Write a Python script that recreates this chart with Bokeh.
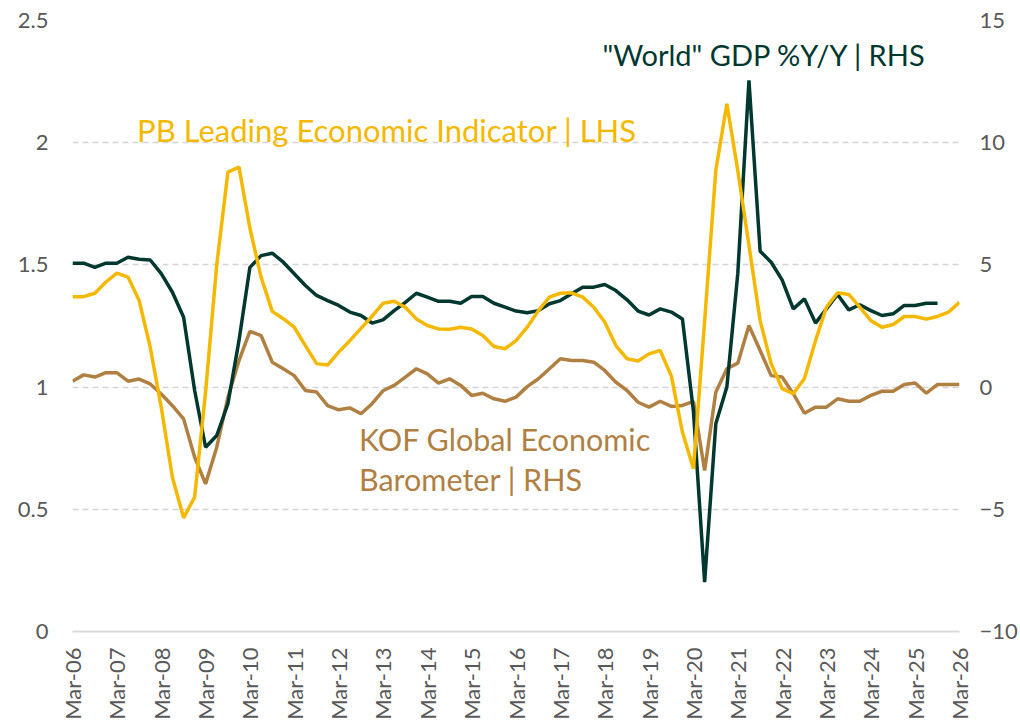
import math
import pandas as pd
from bokeh.plotting import figure
from bokeh.models import (Range1d, LinearAxis, FixedTicker, DatetimeTickFormatter,
                          NumeralTickFormatter, Label, ColumnDataSource)
from bokeh.embed import file_html
from bokeh.resources import INLINE

# ---------------- data ----------------
dates = pd.date_range("2006-03-01", "2026-03-01", freq="3MS")  # quarterly, Mar-06 .. Mar-26

pb_lei = [1.37, 1.37, 1.384, 1.43, 1.466, 1.45, 1.354, 1.163, 0.917, 0.63,
          0.465, 0.55, 0.98, 1.5, 1.88, 1.9, 1.65, 1.45, 1.31, 1.28,
          1.245, 1.17, 1.096, 1.09, 1.143, 1.19, 1.24, 1.29, 1.343, 1.351,
          1.327, 1.279, 1.252, 1.238, 1.237, 1.245, 1.238, 1.211, 1.166, 1.157,
          1.19, 1.245, 1.313, 1.368, 1.384, 1.386, 1.368, 1.327, 1.266, 1.17,
          1.116, 1.107, 1.136, 1.15, 1.045, 0.816, 0.666, 1.27, 1.886, 2.159,
          1.886, 1.58, 1.272, 1.096, 0.994, 0.973, 1.035, 1.19, 1.327, 1.386,
          1.379, 1.327, 1.272, 1.245, 1.256, 1.289, 1.289, 1.278, 1.289, 1.307,
          1.347]

world_gdp = [5.07, 5.07, 4.9, 5.07, 5.07, 5.31, 5.23, 5.2, 4.64, 3.88,
             2.86, -0.14, -2.46, -1.98, -0.68, 1.9, 4.9, 5.38, 5.48, 5.11,
             4.64, 4.16, 3.75, 3.54, 3.34, 3.07, 2.93, 2.62, 2.75, 3.13,
             3.47, 3.84, 3.68, 3.51, 3.51, 3.43, 3.71, 3.71, 3.43, 3.27,
             3.11, 3.04, 3.13, 3.41, 3.54, 3.82, 4.09, 4.09, 4.2, 3.95,
             3.57, 3.11, 2.95, 3.2, 3.07, 2.79, -1.0, -7.98, -1.5, 0.0,
             4.64, 12.55, 5.56, 5.11, 4.39, 3.2, 3.61, 2.62, 3.2, 3.79,
             3.16, 3.37, 3.13, 2.93, 3.0, 3.34, 3.34, 3.43, 3.43]

kof = [0.24, 0.5, 0.41, 0.59, 0.59, 0.24, 0.33, 0.13, -0.28, -0.76,
       -1.3, -2.87, -3.96, -2.46, -0.42, 1.08, 2.28, 2.11, 1.02, 0.75,
       0.47, -0.14, -0.2, -0.76, -0.93, -0.85, -1.09, -0.68, -0.15, 0.07,
       0.41, 0.75, 0.54, 0.16, 0.34, 0.07, -0.34, -0.25, -0.48, -0.58,
       -0.41, 0.02, 0.34, 0.75, 1.16, 1.09, 1.09, 1.02, 0.68, 0.2,
       -0.14, -0.62, -0.82, -0.58, -0.79, -0.75, -0.58, -3.41, -0.21, 0.75,
       0.98, 2.52, 1.5, 0.47, 0.41, -0.27, -1.07, -0.82, -0.82, -0.48,
       -0.58, -0.58, -0.34, -0.17, -0.17, 0.11, 0.17, -0.25, 0.11, 0.11,
       0.11]

tick_dates = pd.date_range("2006-03-01", "2026-03-01", freq="12MS")
left_ticks = [0, 0.5, 1, 1.5, 2, 2.5]
right_ticks = [-10, -5, 0, 5, 10, 15]

label_gdp = '"World" GDP %Y/Y | RHS'
label_pb = "PB Leading Economic Indicator | LHS"
label_kof_1 = "KOF Global Economic"
label_kof_2 = "Barometer | RHS"

# ---------------- style ----------------
C_GREEN = "#003830"
C_YELLOW = "#F5B800"
C_BROWN = "#B08043"
C_TICK = "#595959"
FONT = "Lato"

p = figure(width=1020, height=727, x_axis_type="datetime",
           output_backend="svg", toolbar_location=None,
           min_border_left=72, min_border_right=60, min_border_top=20,
           min_border_bottom=96)
p.outline_line_color = None
p.x_range = Range1d(dates[0], dates[-1])
p.y_range = Range1d(0, 2.5)
p.extra_y_ranges = {"right": Range1d(-10, 15)}

src_main = ColumnDataSource(dict(date=dates, pb=pb_lei, kof=kof))
src_gdp = ColumnDataSource(dict(date=dates[:len(world_gdp)], gdp=world_gdp))

p.line("date", "kof", source=src_main, y_range_name="right", color=C_BROWN, line_width=3.5)
p.line("date", "gdp", source=src_gdp, y_range_name="right", color=C_GREEN, line_width=3.5)
p.line("date", "pb", source=src_main, color=C_YELLOW, line_width=3.5)

# axes
xa = p.xaxis[0]
xa.ticker = FixedTicker(ticks=[d.value // 10**6 for d in tick_dates])
xa.formatter = DatetimeTickFormatter(years="%b-%y", months="%b-%y", days="%b-%y",
                                     hours="%b-%y", minutes="%b-%y")
xa.major_label_orientation = math.pi / 2
xa.axis_line_color = "#d9d9d9"
xa.axis_line_width = 2
xa.major_tick_line_color = None
xa.minor_tick_line_color = None
xa.major_tick_out = 0
xa.minor_tick_out = 0
xa.major_label_standoff = 16
xa.major_label_text_font = FONT
xa.major_label_text_font_size = "22px"
xa.major_label_text_color = C_TICK

ya = p.yaxis[0]
ya.ticker = FixedTicker(ticks=left_ticks)
ya.formatter = NumeralTickFormatter(format="0.[0]")

ra = LinearAxis(y_range_name="right", ticker=FixedTicker(ticks=right_ticks))
p.add_layout(ra, "right")

for ax, standoff in ((ya, 24), (ra, 20)):
    ax.axis_line_color = None
    ax.major_tick_line_color = None
    ax.minor_tick_line_color = None
    ax.major_tick_out = 0
    ax.minor_tick_out = 0
    ax.major_label_standoff = standoff
    ax.major_label_text_font = FONT
    ax.major_label_text_font_size = "22px"
    ax.major_label_text_color = C_TICK

p.xgrid.grid_line_color = None
p.ygrid.ticker = FixedTicker(ticks=left_ticks[1:])
p.ygrid.grid_line_color = "#d4d4d4"
p.ygrid.grid_line_dash = "6 4"
p.ygrid.grid_line_width = 1.5

# series labels (annotations)
p.add_layout(Label(x=pd.Timestamp("2018-02-10"), y=2.362, text=label_gdp,
                   text_font=FONT, text_font_size="29px", text_color=C_GREEN,
                   text_baseline="alphabetic"))
p.add_layout(Label(x=pd.Timestamp("2007-08-15"), y=2.053, text=label_pb,
                   text_font=FONT, text_font_size="31px", text_color=C_YELLOW,
                   text_baseline="alphabetic"))
p.add_layout(Label(x=pd.Timestamp("2012-08-15"), y=0.786, text=label_kof_1,
                   text_font=FONT, text_font_size="30.5px", text_color=C_BROWN,
                   text_baseline="alphabetic"))
p.add_layout(Label(x=pd.Timestamp("2012-08-15"), y=0.623, text=label_kof_2,
                   text_font=FONT, text_font_size="30.5px", text_color=C_BROWN,
                   text_baseline="alphabetic"))

open("out.html", "w").write(file_html(p, INLINE))
